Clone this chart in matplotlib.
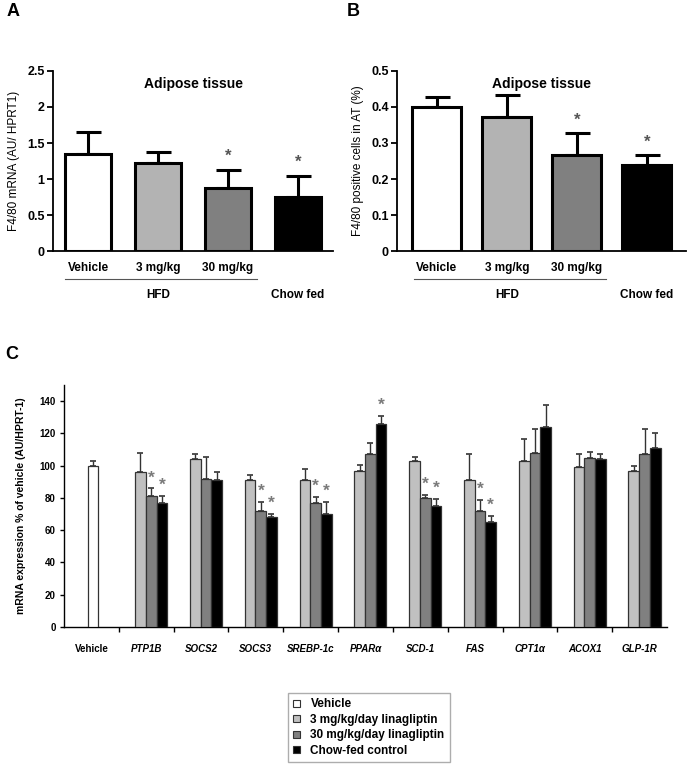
import matplotlib.pyplot as plt
import numpy as np

plt.rcParams['font.family'] = ['Liberation Sans', 'DejaVu Sans']

# Panel A / B data
groups_ab = ['Vehicle', '3 mg/kg', '30 mg/kg', 'Chow fed']
a_vals = [1.35, 1.22, 0.88, 0.75]
a_err = [0.30, 0.16, 0.24, 0.29]
a_star = [False, False, True, True]
b_vals = [0.400, 0.373, 0.266, 0.240]
b_err = [0.027, 0.059, 0.061, 0.028]
b_star = [False, False, True, True]
ab_colors = ['white', '#b3b3b3', '#808080', 'black']

# Panel C data
genes = ['Vehicle', 'PTP1B', 'SOCS2', 'SOCS3', 'SREBP-1c', 'PPARα',
         'SCD-1', 'FAS', 'CPT1α', 'ACOX1', 'GLP-1R']
vehicle_val, vehicle_err = 100, 3
lina3 = [96, 104, 91, 91, 97, 103, 91, 103, 99, 97]
lina3_err = [12, 3.5, 3.5, 7, 3.5, 2.5, 16, 13.5, 8, 2.5]
lina30 = [81, 92, 72, 77, 107, 80, 72, 108, 105, 107]
lina30_err = [5, 13.5, 5.5, 3.5, 7, 2, 7, 14.5, 3.5, 16]
chow = [77, 91, 68, 70, 126, 75, 65, 124, 104, 111]
chow_err = [4.5, 5, 2, 7.5, 5, 4.5, 4, 13.5, 3.5, 9.5]
lina30_star = [1, 0, 1, 1, 0, 1, 1, 0, 0, 0]
chow_star = [1, 0, 1, 1, 1, 1, 1, 0, 0, 0]
c_colors = ['white', '#c0c0c0', '#808080', 'black']
legend_labels = ['Vehicle', '3 mg/kg/day linagliptin', '30 mg/kg/day linagliptin', 'Chow-fed control']

fig = plt.figure(figsize=(6.87, 7.71), dpi=100)


def panel_ab(rect, vals, errs, stars, ylim, yticks, yticklabels, ylabel, xlim, width, star_off):
    ax = fig.add_axes(rect)
    x = np.arange(len(vals))
    ax.bar(x, vals, width=width, color=ab_colors, edgecolor='black', linewidth=2.2, zorder=3)
    ax.errorbar(x, vals, yerr=[np.zeros(len(errs)), errs], fmt='none', ecolor='black',
                elinewidth=2.2, capsize=9, capthick=2.2, zorder=2)
    for i, s in enumerate(stars):
        if s:
            ax.text(x[i], vals[i] + errs[i] + star_off, '*', ha='center', va='center',
                    fontsize=12, color='#555555', fontweight='bold')
    ax.set_ylim(*ylim)
    ax.set_xlim(*xlim)
    ax.set_yticks(yticks)
    ax.set_yticklabels(yticklabels, fontweight='bold', fontsize=9)
    ax.set_xticks([])
    ax.spines['top'].set_visible(False)
    ax.spines['right'].set_visible(False)
    ax.spines['left'].set_linewidth(1.3)
    ax.spines['bottom'].set_linewidth(1.3)
    ax.tick_params(axis='y', length=4, width=1.3, pad=2)
    ax.set_ylabel(ylabel, fontsize=8.5, labelpad=5)
    ax.text(0.5, 0.93, 'Adipose tissue', transform=ax.transAxes, ha='center', va='center',
            fontsize=10, fontweight='bold')
    trans = ax.get_xaxis_transform()
    for i, g in enumerate(groups_ab[:3]):
        ax.text(i, -0.095, g, transform=trans, ha='center', va='center', fontsize=8.5,
                fontweight='bold')
    ax.plot([-0.33, 2.41], [-0.155, -0.155], transform=trans, color='#555555', lw=0.8,
            clip_on=False)
    ax.text(1, -0.245, 'HFD', transform=trans, ha='center', va='center', fontsize=8.5,
            fontweight='bold')
    ax.text(3, -0.245, groups_ab[3], transform=trans, ha='center', va='center', fontsize=8.5,
            fontweight='bold')
    return ax


W, H = 687, 771
panel_ab([53 / W, 1 - 251 / H, 280 / W, 180 / H], a_vals, a_err, a_star, (0, 2.5),
         [0, 0.5, 1, 1.5, 2, 2.5], ['0', '0.5', '1', '1.5', '2', '2.5'],
         'F4/80 mRNA (AU/ HPRT1)', (-0.5, 3.5), 0.67, 0.19)
panel_ab([397 / W, 1 - 251 / H, 289 / W, 180 / H], b_vals, b_err, b_star, (0, 0.5),
         [0, 0.1, 0.2, 0.3, 0.4, 0.5], ['0', '0.1', '0.2', '0.3', '0.4', '0.5'],
         'F4/80 positive cells in AT (%)', (-0.57, 3.56), 0.7, 0.035)

fig.text(7 / W, 1 - 11 / H, 'A', fontsize=13, fontweight='bold', va='center')
fig.text(347 / W, 1 - 11 / H, 'B', fontsize=13, fontweight='bold', va='center')
fig.text(5 / W, 1 - 355 / H, 'C', fontsize=13, fontweight='bold', va='center')

# Panel C
axc = fig.add_axes([64 / W, 1 - 627 / H, 603 / W, 242 / H])
bw = 0.195
shift = 0.09
xg = np.arange(1, len(genes))
axc.bar(0 + 0.03, vehicle_val, width=bw, color='white', edgecolor='#333333', linewidth=0.9, zorder=3)
axc.errorbar(0 + 0.03, vehicle_val, yerr=[[0], [vehicle_err]], fmt='none', ecolor='#333333',
             elinewidth=1, capsize=2.5, capthick=1.2, zorder=2)
series = [(lina3, lina3_err, c_colors[1], None), (lina30, lina30_err, c_colors[2], lina30_star),
          (chow, chow_err, c_colors[3], chow_star)]
for k, (vals, errs, col, stars) in enumerate(series):
    xs = xg + shift + (k - 1) * bw
    axc.bar(xs, vals, width=bw, color=col, edgecolor='#333333', linewidth=0.9, zorder=3)
    axc.errorbar(xs, vals, yerr=[np.zeros(len(errs)), errs], fmt='none', ecolor='#333333',
                 elinewidth=1, capsize=2.5, capthick=1.2, zorder=2)
    if stars is not None:
        for j, s in enumerate(stars):
            if s:
                axc.text(xs[j], vals[j] + errs[j] + 6.5, '*', ha='center', va='center',
                         fontsize=12.5, color='#7a7a7a', fontweight='bold')
axc.set_xlim(-0.5, 10.5)
axc.set_ylim(0, 150)
axc.set_yticks(np.arange(0, 141, 20))
axc.set_yticklabels([str(v) for v in range(0, 141, 20)], fontweight='bold', fontsize=7)
axc.set_xticks(np.arange(len(genes)))
labels = axc.set_xticklabels(genes, fontweight='bold', fontsize=7)
for lab in labels[1:]:
    lab.set_fontstyle('italic')
axc.set_xticks(np.arange(0.5, 10.5, 1), minor=True)
axc.tick_params(axis='x', which='major', length=0, pad=12)
axc.tick_params(axis='x', which='minor', length=3.5, width=1)
axc.tick_params(axis='y', length=3, width=1, pad=3)
axc.spines['top'].set_visible(False)
axc.spines['right'].set_visible(False)
axc.spines['left'].set_linewidth(1)
axc.spines['bottom'].set_linewidth(1)
axc.set_ylabel('mRNA expression % of vehicle (AU/HPRT-1)', fontsize=7.5, fontweight='bold',
               labelpad=10)

handles = [plt.Rectangle((0, 0), 1, 1, facecolor=c, edgecolor='#333333', linewidth=0.8)
           for c in c_colors]
leg = fig.legend(handles, legend_labels, loc='upper left',
                 bbox_to_anchor=(288 / W, 1 - 693 / H), frameon=True, fancybox=False,
                 prop={'weight': 'bold', 'size': 8.5}, handlelength=0.55, handleheight=0.55,
                 handletextpad=0.9, labelspacing=0.3, borderpad=0.45, borderaxespad=0)
leg.get_frame().set_edgecolor('#999999')
leg.get_frame().set_linewidth(1)

fig.savefig('out.png', dpi=100)
